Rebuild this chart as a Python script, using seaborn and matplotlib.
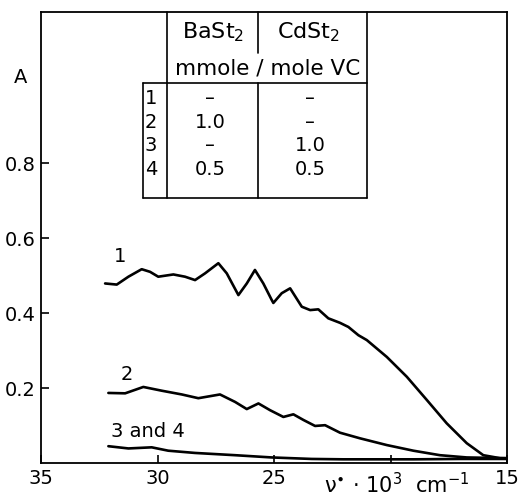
import numpy as np
import pandas as pd
import matplotlib
matplotlib.use('Agg')
import matplotlib.pyplot as plt
import seaborn as sns

# wavenumber (10^3 cm^-1) and absorbance
x1 = [32.25, 31.75, 31.25, 30.68, 30.32, 29.97, 29.32, 28.82, 28.39, 27.96, 27.39, 27.03,
      26.53, 26.17, 25.82, 25.46, 25.10, 25.03, 24.67, 24.31, 23.81, 23.45, 23.10, 22.67,
      22.17, 21.81, 21.38, 21.02, 20.16, 19.30, 18.44, 17.59, 16.73, 16.02, 15.30, 15.04]
y1 = [0.479, 0.476, 0.497, 0.517, 0.510, 0.497, 0.503, 0.497, 0.488, 0.506, 0.533, 0.506,
      0.448, 0.479, 0.515, 0.479, 0.435, 0.427, 0.453, 0.466, 0.417, 0.408, 0.410, 0.386,
      0.374, 0.363, 0.341, 0.328, 0.283, 0.230, 0.168, 0.106, 0.053, 0.021, 0.013, 0.013]

x2 = [32.11, 31.39, 30.61, 29.82, 28.96, 28.25, 27.32, 26.67, 26.17, 25.67, 25.17, 24.60,
      24.17, 23.74, 23.24, 22.81, 22.17, 21.31, 20.16, 19.02, 17.88, 16.73, 15.04]
y2 = [0.187, 0.186, 0.203, 0.193, 0.183, 0.173, 0.183, 0.163, 0.144, 0.159, 0.141, 0.123,
      0.130, 0.115, 0.099, 0.101, 0.081, 0.066, 0.048, 0.033, 0.021, 0.015, 0.013]

x34 = [32.11, 31.25, 30.25, 29.54, 28.39, 26.67, 25.10, 23.38, 22.03, 19.0, 17.0, 15.04]
y34 = [0.045, 0.039, 0.042, 0.033, 0.027, 0.021, 0.015, 0.011, 0.010, 0.010, 0.011, 0.011]

curve_labels = ['1', '2', '3 and 4']
label_x = [31.6, 31.3, 32.0]
label_y = [0.55, 0.235, 0.083]

row_ids = ['1', '2', '3', '4']
ba_vals = ['–', '1.0', '–', '0.5']
cd_vals = ['–', '–', '1.0', '0.5']

sns.set_theme(style='ticks')
plt.rcParams['font.family'] = ['DejaVu Sans']
plt.rcParams['text.color'] = 'black'
plt.rcParams['axes.labelcolor'] = 'black'

fig = plt.figure(figsize=(5.26, 4.99), dpi=100)
ax = fig.add_axes([0.078, 0.072, 0.886, 0.904])

frames = []
for name, xs, ys in [('1', x1, y1), ('2', x2, y2), ('3 and 4', x34, y34)]:
    frames.append(pd.DataFrame({'nu': xs, 'A': ys, 'curve': name}))
df = pd.concat(frames, ignore_index=True)

for name, sub in df.groupby('curve'):
    sns.lineplot(data=sub, x='nu', y='A', ax=ax, color='black', lw=1.9,
                 sort=False, estimator=None, solid_joinstyle='round',
                 solid_capstyle='round')

for lab, lx, ly in zip(curve_labels, label_x, label_y):
    ha = 'left' if lab == '3 and 4' else 'center'
    ax.text(lx, ly, lab, fontsize=14, ha=ha, va='center', color='black')

ax.set_xlim(35, 15)
ax.set_ylim(0, 1.203)
ax.set_xticks([35, 30, 25, 20, 15])
ax.set_xticklabels(['35', '30', '25', '', '15'])
ax.set_yticks([0.2, 0.4, 0.6, 0.8])
ax.set_yticklabels(['0.2', '0.4', '0.6', '0.8'])
ax.tick_params(direction='in', length=6, width=1.2, labelsize=14, pad=4,
               colors='black', labelcolor='black')
ax.set_xlabel('')
ax.set_ylabel('')
for s in ax.spines.values():
    s.set_linewidth(1.3)
    s.set_color('black')

ax.text(-0.045, 0.855, 'A', transform=ax.transAxes, fontsize=14, ha='center', va='center')
ax.text(0.764, -0.048, 'ν$^{\\bullet}$ · 10$^{3}$  cm$^{-1}$', transform=ax.transAxes,
        fontsize=15, ha='center', va='center')

# table
tr = ax.transAxes
kw = dict(color='black', lw=1.2, transform=tr, clip_on=False)
ax.plot([0.270, 0.270], [1.0, 0.588], **kw)
ax.plot([0.700, 0.700], [1.0, 0.588], **kw)
ax.plot([0.466, 0.466], [1.0, 0.909], **kw)
ax.plot([0.466, 0.466], [0.843, 0.588], **kw)
ax.plot([0.219, 0.700], [0.843, 0.843], **kw)
ax.plot([0.219, 0.219], [0.843, 0.588], **kw)
ax.plot([0.219, 0.700], [0.588, 0.588], **kw)

ax.text(0.369, 0.955, 'BaSt$_2$', transform=tr, fontsize=16, ha='center', va='center')
ax.text(0.573, 0.955, 'CdSt$_2$', transform=tr, fontsize=16, ha='center', va='center')
ax.text(0.487, 0.874, 'mmole / mole VC', transform=tr, fontsize=15.5, ha='center', va='center')
row_y = [0.809, 0.756, 0.703, 0.650]
for rid, b, c, ry in zip(row_ids, ba_vals, cd_vals, row_y):
    ax.text(0.236, ry, rid, transform=tr, fontsize=14, ha='center', va='center')
    ax.text(0.363, ry, b, transform=tr, fontsize=14, ha='center', va='center')
    ax.text(0.577, ry, c, transform=tr, fontsize=14, ha='center', va='center')

fig.savefig('out.png', dpi=100)
